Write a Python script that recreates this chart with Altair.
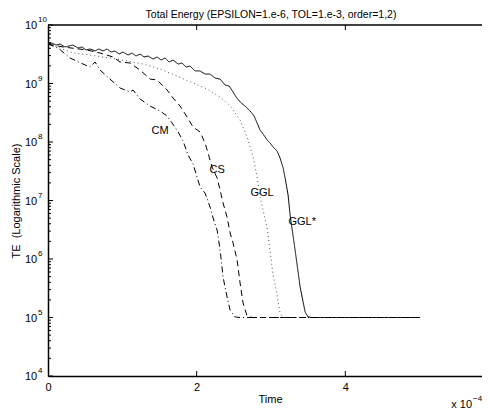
import altair as alt
import pandas as pd

# ---- data ----
series_names = ["GGL*", "CS", "GGL", "CM"]

t_gglstar = [0, 0.054, 0.108, 0.162, 0.229, 0.336, 0.404, 0.458, 0.511, 0.565, 0.633, 0.686,
             0.740, 0.794, 0.848, 0.902, 0.956, 1.009, 1.077, 1.131, 1.184, 1.238, 1.292, 1.346,
             1.413, 1.467, 1.521, 1.575, 1.629, 1.682, 1.750, 1.804, 1.857, 1.911, 1.978, 2.046,
             2.113, 2.180, 2.248, 2.315, 2.382, 2.436, 2.490, 2.530, 2.584, 2.651, 2.719, 2.773,
             2.813, 2.853, 2.894, 2.948, 2.988, 3.028, 3.082, 3.122, 3.163, 3.190, 3.230, 3.257,
             3.324, 3.392, 3.459, 3.499, 3.553, 5.0]
te_gglstar = [4.73e9, 4.92e9, 4.55e9, 4.73e9, 4.21e9, 4.55e9, 4.05e9, 4.21e9, 3.74e9, 3.89e9,
              3.60e9, 3.89e9, 3.60e9, 3.89e9, 3.45e9, 3.60e9, 3.19e9, 3.45e9, 3.07e9, 3.32e9,
              2.95e9, 3.19e9, 2.84e9, 2.95e9, 2.62e9, 2.84e9, 2.52e9, 2.73e9, 2.33e9, 2.52e9,
              2.15e9, 2.24e9, 1.91e9, 1.99e9, 1.64e9, 1.64e9, 1.45e9, 1.45e9, 1.24e9, 1.19e9,
              9.42e8, 9.06e8, 7.16e8, 5.88e8, 4.83e8, 4.12e8, 3.39e8, 2.78e8, 2.11e8, 1.60e8,
              1.37e8, 1.08e8, 9.62e7, 8.22e7, 7.02e7, 5.32e7, 3.60e7, 2.43e7, 1.24e7, 5.65e6,
              1.43e6, 3.32e5, 1.24e5, 1.02e5, 1.0e5, 1.0e5]

t_cs = [0, 0.202, 0.525, 0.700, 0.875, 0.969, 1.104, 1.238, 1.373, 1.467, 1.602, 1.682, 1.777,
        1.871, 1.952, 2.046, 2.113, 2.153, 2.207, 2.275, 2.315, 2.355, 2.409, 2.450, 2.490,
        2.544, 2.584, 2.624, 2.678, 2.746, 5.0]
te_cs = [4.73e9, 4.21e9, 3.74e9, 3.32e9, 2.84e9, 2.33e9, 2.24e9, 1.70e9, 1.19e9, 1.15e9,
         7.74e8, 5.65e8, 4.12e8, 2.67e8, 1.80e8, 1.48e8, 9.62e7, 6.48e7, 3.74e7, 2.43e7,
         1.51e7, 9.06e6, 5.22e6, 2.78e6, 1.88e6, 9.62e5, 3.89e5, 1.77e5, 1.06e5, 1.0e5, 1.0e5]

t_ggl = [0, 0.162, 0.336, 0.565, 0.834, 1.063, 1.279, 1.507, 1.736, 1.952, 2.140, 2.315, 2.450,
         2.584, 2.678, 2.759, 2.813, 2.853, 2.894, 2.948, 2.988, 3.028, 3.082, 3.122, 3.163, 5.0]
te_ggl = [4.73e9, 4.05e9, 3.32e9, 3.07e9, 2.73e9, 2.43e9, 2.15e9, 1.77e9, 1.34e9, 1.02e9,
          8.05e8, 5.88e8, 4.12e8, 2.38e8, 1.22e8, 5.54e7, 2.52e7, 1.15e7, 6.88e6, 3.39e6,
          1.32e6, 5.32e5, 2.43e5, 1.19e5, 1.0e5, 1.0e5]

t_cm = [0, 0.135, 0.296, 0.471, 0.565, 0.633, 0.700, 0.834, 0.969, 1.104, 1.144, 1.238, 1.373,
        1.507, 1.602, 1.736, 1.817, 1.884, 1.952, 2.005, 2.046, 2.113, 2.180, 2.221, 2.275,
        2.315, 2.355, 2.409, 2.450, 2.517, 2.584, 5.0]
te_cm = [4.73e9, 4.05e9, 2.73e9, 2.15e9, 1.91e9, 2.33e9, 1.70e9, 1.19e9, 8.38e8, 7.16e8,
         7.74e8, 5.43e8, 4.12e8, 3.39e8, 2.78e8, 1.60e8, 1.04e8, 6.00e7, 4.21e7, 2.52e7,
         1.70e7, 1.34e7, 7.74e6, 5.02e6, 3.13e6, 1.43e6, 4.92e5, 2.24e5, 1.34e5, 1.02e5,
         1.0e5, 1.0e5]

label_text = ["CM", "CS", "GGL", "GGL*"]
label_t = [1.507, 2.275, 2.88, 3.42]
label_te = [1.54e8, 3.3e7, 1.34e7, 4.3e6]

title_text = "Total Energy (EPSILON=1.e-6, TOL=1.e-3, order=1,2)"
x_tick_values = [2, 4]
x_label_values = [0, 2, 4]
decade_exps = [4, 5, 6, 7, 8, 9, 10]
minor_mult = [2, 3, 4, 5, 6, 7, 8, 9]

# ---- build tables ----
rows = []
for name, ts, es in [("GGL*", t_gglstar, te_gglstar), ("CS", t_cs, te_cs),
                     ("GGL", t_ggl, te_ggl), ("CM", t_cm, te_cm)]:
    for i, (t, e) in enumerate(zip(ts, es)):
        rows.append({"series": name, "t": t, "TE": e, "i": i})
df = pd.DataFrame(rows)

labels_df = pd.DataFrame({"label": label_text, "t": label_t, "TE": label_te})
decades_df = pd.DataFrame({"TE": [10.0 ** e for e in decade_exps],
                           "exp": [str(e) for e in decade_exps]})
minor_df = pd.DataFrame({"TE": [m * 10.0 ** e for e in decade_exps[:-1] for m in minor_mult]})
xt_df = pd.DataFrame({"t": x_tick_values})

FULLW = 446          # plot width of the full 0..6 range (right edge falls outside the page)
W, H = 434, 351      # visible part of the plot
FONT = "Liberation Sans"

xscale = alt.Scale(domain=[0, 6], range=[0, FULLW], nice=False, zero=False)
yscale = alt.Scale(type="log", domain=[1e4, 1e10], nice=False)

lines = alt.Chart(df).mark_line(strokeWidth=1, clip=True).encode(
    x=alt.X("t:Q", scale=xscale,
            axis=alt.Axis(values=x_label_values, format="d", ticks=False, grid=False,
                          labelFlush=False, labelPadding=5, labelFontSize=11, labelFont=FONT,
                          labelColor="black", domainColor="black", domainWidth=1.5,
                          title="Time", titleX=222, titleY=23, titleBaseline="middle",
                          titleFontSize=11, titleFontWeight="normal", titleFont=FONT,
                          titleColor="black")),
    y=alt.Y("TE:Q", scale=yscale,
            axis=alt.Axis(labels=False, ticks=False, grid=False, domainColor="black",
                          domainWidth=1.5,
                          title="TE \u00a0(Logarithmic Scale)", titleX=-32, titleY=H / 2,
                          titleAngle=270, titleAlign="center", titleBaseline="middle",
                          titleFontSize=11, titleFontWeight="normal", titleFont=FONT,
                          titleColor="black")),
    strokeDash=alt.StrokeDash("series:N",
                              scale=alt.Scale(domain=series_names,
                                              range=[[1, 0], [6, 4], [1, 3], [6, 3, 1, 3]]),
                              legend=None),
    color=alt.Color("series:N",
                    scale=alt.Scale(domain=series_names,
                                    range=["#000000", "#000000", "#555555", "#000000"]),
                    legend=None),
    order=alt.Order("i:Q"),
)

curve_labels = alt.Chart(labels_df).mark_text(fontSize=11, font=FONT, color="black",
                                               align="center", baseline="middle").encode(
    x=alt.X("t:Q", scale=xscale), y=alt.Y("TE:Q", scale=yscale), text="label:N")

tick_rule = dict(color="black", strokeWidth=1)
y_major_left = alt.Chart(decades_df).mark_rule(**tick_rule).encode(
    y=alt.Y("TE:Q", scale=yscale), x=alt.value(0), x2=alt.value(5))
y_minor_left = alt.Chart(minor_df).mark_rule(**tick_rule).encode(
    y=alt.Y("TE:Q", scale=yscale), x=alt.value(0), x2=alt.value(3))
x_bottom = alt.Chart(xt_df).mark_rule(**tick_rule).encode(
    x=alt.X("t:Q", scale=xscale), y=alt.value(H), y2=alt.value(H - 5))
x_top = alt.Chart(xt_df).mark_rule(**tick_rule).encode(
    x=alt.X("t:Q", scale=xscale), y=alt.value(0), y2=alt.value(5))
top_border = alt.Chart(xt_df).mark_rule(**tick_rule).encode(
    x=alt.value(0), x2=alt.value(FULLW), y=alt.value(0))

y_base = alt.Chart(decades_df).mark_text(fontSize=11, font=FONT, color="black",
                                          align="center", baseline="middle", dy=1).encode(
    y=alt.Y("TE:Q", scale=yscale), x=alt.value(-17), text=alt.value("10"))
y_exp = alt.Chart(decades_df).mark_text(fontSize=8, font=FONT, color="black",
                                         align="left", baseline="middle", dy=-5).encode(
    y=alt.Y("TE:Q", scale=yscale), x=alt.value(-10), text="exp:N")

title_df = pd.DataFrame({"txt": [title_text]})
title_mark = alt.Chart(title_df).mark_text(fontSize=10.5, font=FONT, color="black",
                                            align="center", baseline="alphabetic").encode(
    x=alt.value(FULLW / 2), y=alt.value(-7), text="txt:N")

mult_df = pd.DataFrame({"txt": ["x 10"], "sup": ["\u22124"]})
x_mult = alt.Chart(mult_df).mark_text(fontSize=11, font=FONT, color="black",
                                       align="right", baseline="middle").encode(
    x=alt.value(424), y=alt.value(H + 29), text="txt:N")
x_mult_sup = alt.Chart(mult_df).mark_text(fontSize=8, font=FONT, color="black",
                                           align="left", baseline="middle").encode(
    x=alt.value(425), y=alt.value(H + 23), text="sup:N")

chart = alt.layer(
    lines, curve_labels, y_major_left, y_minor_left, x_bottom, x_top, top_border,
    y_base, y_exp, title_mark, x_mult, x_mult_sup
).properties(
    width=W, height=H,
    autosize=alt.AutoSizeParams(type="none"),
    padding={"left": 40, "top": 17, "right": 0, "bottom": 37},
    background="white",
).configure_view(strokeWidth=0)

chart.save("out.html", embed_options={"renderer": "svg", "actions": False})
